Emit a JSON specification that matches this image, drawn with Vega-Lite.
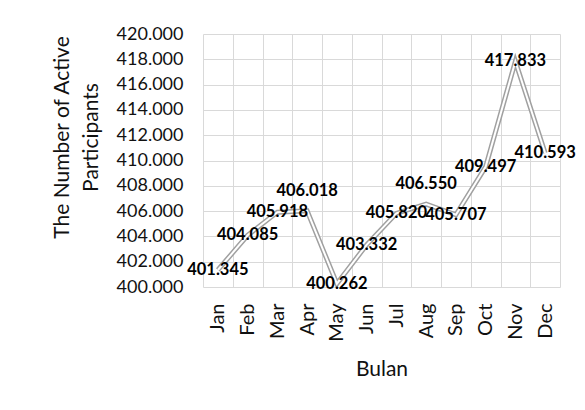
{
  "$schema": "https://vega.github.io/schema/vega-lite/v6.json",
  "width": 357,
  "height": 253,
  "autosize": {"type": "none"},
  "padding": {"left": 203, "top": 34, "right": 25, "bottom": 123},
  "background": "white",
  "config": {"view": {"stroke": null}, "font": "Lato"},
  "data": {
    "values": [
      {"month": "Jan", "value": 401.345},
      {"month": "Feb", "value": 404.085},
      {"month": "Mar", "value": 405.918},
      {"month": "Apr", "value": 406.018},
      {"month": "May", "value": 400.262},
      {"month": "Jun", "value": 403.332},
      {"month": "Jul", "value": 405.820},
      {"month": "Aug", "value": 406.550},
      {"month": "Sep", "value": 405.707},
      {"month": "Oct", "value": 409.497},
      {"month": "Nov", "value": 417.833},
      {"month": "Dec", "value": 410.593}
    ]
  },
  "encoding": {
    "x": {
      "field": "month",
      "type": "ordinal",
      "sort": null,
      "scale": {"type": "band", "paddingInner": 0, "paddingOuter": 0},
      "axis": {
        "title": "Bulan",
        "titleFont": "Lato",
        "titleFontSize": 21,
        "titleFontWeight": "normal",
        "titleColor": "#111111",
        "titlePadding": 17,
        "labelAngle": -90,
        "labelFontSize": 20,
        "labelColor": "#111111",
        "labelPadding": 16,
        "ticks": false,
        "domain": false,
        "grid": true,
        "tickBand": "extent",
        "gridColor": "#d9d9d9",
        "gridWidth": 1
      }
    },
    "y": {
      "field": "value",
      "type": "quantitative",
      "scale": {"domain": [400, 420], "nice": false, "zero": false},
      "axis": {
        "values": [400, 402, 404, 406, 408, 410, 412, 414, 416, 418, 420],
        "format": ".3f",
        "title": ["The Number of Active", "Participants"],
        "titleFontSize": 21,
        "titleFontWeight": "normal",
        "titleColor": "#111111",
        "titleLineHeight": 29,
        "titlePadding": 15,
        "titleY": 103,
        "labelFontSize": 18,
        "labelColor": "#111111",
        "labelPadding": 20,
        "ticks": false,
        "domain": false,
        "gridColor": "#d9d9d9",
        "gridWidth": 1
      }
    }
  },
  "layer": [
    {"mark": {"type": "line", "color": "#a0a0a0", "strokeWidth": 5}},
    {"mark": {"type": "line", "color": "white", "strokeWidth": 2}},
    {
      "transform": [{"filter": "datum.month != 'Apr' && datum.month != 'Aug'"}],
      "mark": {"type": "text", "font": "Lato", "fontWeight": "bold", "fontSize": 16.5, "color": "black"},
      "encoding": {"text": {"field": "value", "type": "quantitative", "format": ".3f"}}
    },
    {
      "transform": [{"filter": "datum.month == 'Apr' || datum.month == 'Aug'"}],
      "mark": {"type": "text", "font": "Lato", "fontWeight": "bold", "fontSize": 16.5, "color": "black", "dy": -20},
      "encoding": {"text": {"field": "value", "type": "quantitative", "format": ".3f"}}
    }
  ]
}
